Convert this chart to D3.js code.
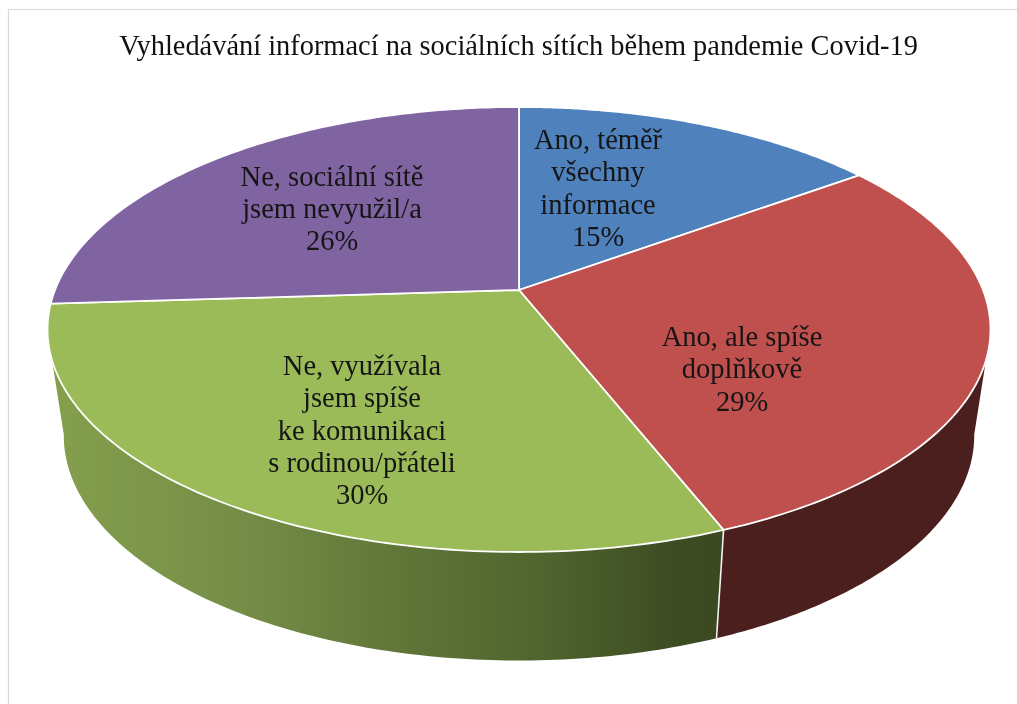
<!DOCTYPE html>
<html><head><meta charset="utf-8">
<script src="https://cdn.jsdelivr.net/npm/d3@7"></script>
<style>html,body{margin:0;padding:0;background:#fff}svg{display:block;filter:blur(0.5px)}</style>
</head><body><svg id="c" width="1017" height="704"></svg>
<script>
const chartTitle = "Vyhledávání informací na sociálních sítích během pandemie Covid-19";
const categories = ["Ano, téměř všechny informace","Ano, ale spíše doplňkově","Ne, využívala jsem spíše ke komunikaci s rodinou/přáteli","Ne, sociální sítě jsem nevyužil/a"];
const values = [15,29,30,26];
const labelLines = [
  ["Ano, téměř","všechny","informace","15%"],
  ["Ano, ale spíše","doplňkově","29%"],
  ["Ne, využívala","jsem spíše","ke komunikaci","s rodinou/přáteli","30%"],
  ["Ne, sociální sítě","jsem nevyužil/a","26%"]
];
const topColors = ["#4f81bd","#c0504d","#9bbb59","#8064a2"];
const wallColors = ["#2a4562","#4b1f1e","url(#gw)","#42305a"];
const labelAnchors = [[598,139.5],[742,336.5],[362,365.5],[332,176]];

const svg = d3.select("#c");
const W = 1017, H = 704;
// frame
svg.append("path").attr("d",`M8.5,${H} V9.5 H${W}`).attr("fill","none").attr("stroke","#d9d9d9").attr("stroke-width",1.2);

// perspective projection of the pie disc
const K = -0.1775;
const topDisc = {cx:519, cy:290, a:215.5, b:464};
const botDisc = {cx:519, cy:395.5, a:218, b:448};
const project = (d, t) => {
  const u = Math.sin(t), v = -Math.cos(t), w = 1 + K*v;
  return [d.cx + d.b*u/w, d.cy + d.a*v/w];
};
const arcPts = (d, t0, t1) => d3.range(0,121).map(i => project(d, t0 + (t1-t0)*i/120));
const line = d3.line();
const slices = d3.pie().sort(null)(values);
const rad = d3.scaleLinear().domain([0,360]).range([0,2*Math.PI]);

const defs = svg.append("defs");
const grad = defs.append("linearGradient").attr("id","gw").attr("gradientUnits","userSpaceOnUse")
  .attr("x1",47).attr("x2",722).attr("y1",0).attr("y2",0);
[[0,"#84a04c"],[0.2,"#7a9349"],[0.33,"#728a45"],[0.5,"#617839"],[0.72,"#50662f"],[0.93,"#3d4c22"],[1,"#3b4920"]]
  .forEach(s=>grad.append("stop").attr("offset",s[0]).attr("stop-color",s[1]));

// walls: only the front part of the rim is visible (silhouette limits in degrees)
const topVisible = [rad(108), rad(252)];
const botVisible = [rad(100), rad(260)];
slices.forEach((s,i)=>{
  const t0 = Math.max(s.startAngle, topVisible[0]), t1 = Math.min(s.endAngle, topVisible[1]);
  const b0 = Math.max(s.startAngle, botVisible[0]), b1 = Math.min(s.endAngle, botVisible[1]);
  if (t1 <= t0 || b1 <= b0) return;
  const pts = arcPts(topDisc,t0,t1).concat(arcPts(botDisc,b1,b0));
  svg.append("path").attr("d",line(pts)+"Z").attr("fill",wallColors[i]);
});
// divider on the visible wall
svg.append("path").attr("d",line([project(topDisc,slices[1].endAngle),project(botDisc,slices[1].endAngle)]))
  .attr("stroke","#f2f2f2").attr("stroke-width",1.6).attr("fill","none");

// top face
slices.forEach((s,i)=>{
  const pts = [[topDisc.cx,topDisc.cy]].concat(arcPts(topDisc,s.startAngle,s.endAngle));
  svg.append("path").attr("d",line(pts)+"Z")
    .attr("fill",topColors[i]).attr("stroke","#fff").attr("stroke-width",1.8).attr("stroke-linejoin","round");
});

// text
const serif = "'Liberation Serif','Times New Roman',serif";
svg.append("text").attr("x",518.5).attr("y",55).attr("text-anchor","middle")
  .attr("font-family",serif).attr("font-size",28.4).attr("fill","#111").text(chartTitle);
labelLines.forEach((lines,i)=>{
  const [x,y0] = labelAnchors[i];
  lines.forEach((l,j)=>{
    svg.append("text").attr("x",x).attr("y",y0+j*32.3).attr("dy","0.34em").attr("text-anchor","middle")
      .attr("font-family",serif).attr("font-size",28.5).attr("fill","#151515").text(l);
  });
});
</script></body></html>
